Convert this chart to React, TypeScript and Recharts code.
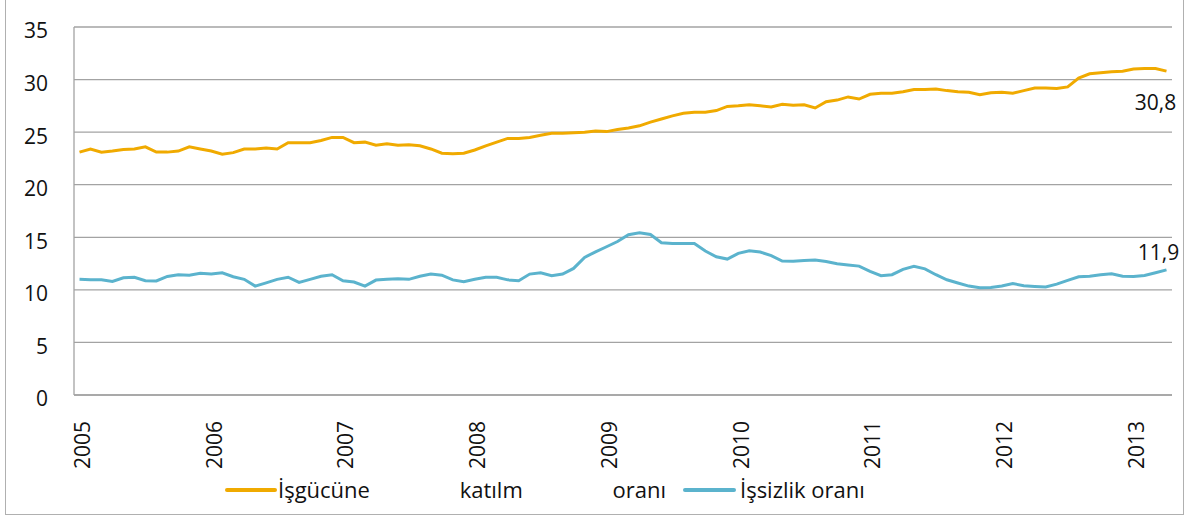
import { CartesianGrid, Legend, Line, LineChart, XAxis, YAxis } from 'recharts';

// monthly, Jan 2005 .. Apr 2013
const months: string[] = Array.from({ length: 100 }, (_, i) => {
  const y = 2005 + Math.floor(i / 12);
  const m = (i % 12) + 1;
  return `${y}-${m < 10 ? '0' + m : m}`;
});

const participation = [
  23.1, 23.4, 23.1, 23.2, 23.35, 23.4, 23.6, 23.1, 23.1, 23.2, 23.6, 23.4,
  23.2, 22.9, 23.05, 23.4, 23.4, 23.5, 23.4, 24.0, 24.0, 24.0, 24.2, 24.5,
  24.5, 24.0, 24.05, 23.75, 23.9, 23.75, 23.8, 23.7, 23.4, 23.0, 22.95, 23.0,
  23.3, 23.7, 24.05, 24.4, 24.4, 24.5, 24.7, 24.9, 24.9, 24.95, 25.0, 25.1,
  25.05, 25.25, 25.4, 25.6, 25.95, 26.25, 26.55, 26.8, 26.9, 26.9, 27.05, 27.45,
  27.5, 27.6, 27.5, 27.4, 27.65, 27.55, 27.6, 27.3, 27.9, 28.05, 28.35, 28.15,
  28.6, 28.7, 28.7, 28.85, 29.05, 29.05, 29.1, 28.95, 28.85, 28.8, 28.55, 28.75,
  28.8, 28.7, 28.95, 29.2, 29.2, 29.15, 29.3, 30.15, 30.55, 30.65, 30.75, 30.8,
  31.0, 31.05, 31.05, 30.8,
];

const unemployment = [
  11.0, 10.96, 10.96, 10.8, 11.15, 11.2, 10.87, 10.85, 11.28, 11.44, 11.4, 11.57,
  11.5, 11.63, 11.25, 11.0, 10.36, 10.67, 11.0, 11.2, 10.71, 11.0, 11.3, 11.44,
  10.87, 10.74, 10.36, 10.93, 11.0, 11.06, 11.0, 11.3, 11.5, 11.4, 10.95, 10.77,
  11.0, 11.2, 11.2, 10.95, 10.87, 11.5, 11.63, 11.34, 11.5, 12.04, 13.09, 13.62,
  14.1, 14.6, 15.24, 15.43, 15.27, 14.48, 14.42, 14.42, 14.4, 13.69, 13.15, 12.93,
  13.47, 13.72, 13.6, 13.25, 12.74, 12.72, 12.8, 12.83, 12.7, 12.48, 12.36, 12.26,
  11.75, 11.34, 11.44, 11.95, 12.23, 12.0, 11.44, 10.96, 10.65, 10.36, 10.2, 10.23,
  10.36, 10.6, 10.4, 10.33, 10.27, 10.55, 10.9, 11.25, 11.3, 11.44, 11.53, 11.3,
  11.28, 11.37, 11.63, 11.9,
];

const yTicks = [0, 5, 10, 15, 20, 25, 30, 35];

const data = months.map((month, i) => ({
  month,
  participation: participation[i],
  unemployment: unemployment[i],
}));

const FONT = '"Open Sans", Lato, sans-serif';
const FS = 21;
const ORANGE = '#F0AA00';
const BLUE = '#5BB3CD';
const GRID = '#a3a3a3';
const LAST = months.length - 1;

function YearTick({ x, y, payload }: any) {
  return (
    <text
      x={0}
      y={0}
      transform={`translate(${x + 3},${y + 18}) rotate(-90)`}
      textAnchor="end"
      dy="0.35em"
      fontSize={FS}
      fontFamily={FONT}
      fill="#111"
    >
      {String(payload.value).slice(0, 4)}
    </text>
  );
}

function endLabel(dx: number, dy: number) {
  return ({ x, y, index, value }: any) => {
    if (index !== LAST) return null;
    return (
      <text
        x={x + dx}
        y={y + dy}
        textAnchor="middle"
        dominantBaseline="central"
        fontSize={FS}
        fontFamily={FONT}
        fill="#111"
      >
        {Number(value).toFixed(1).replace('.', ',')}
      </text>
    );
  };
}

function LegendContent({ payload }: any) {
  const items = payload || [];
  const first = items.find((p: any) => p.dataKey === 'participation');
  const second = items.find((p: any) => p.dataKey === 'unemployment');
  const textStyle: React.CSSProperties = {
    position: 'absolute',
    top: 0,
    height: 30,
    lineHeight: '30px',
    fontSize: FS + 1,
    fontFamily: FONT,
    color: '#111',
    whiteSpace: 'nowrap',
  };
  const swatch = (left: number, width: number, color: string): React.CSSProperties => ({
    position: 'absolute',
    left,
    top: 14,
    width,
    height: 4,
    borderRadius: 2,
    background: color,
  });
  return (
    <div style={{ position: 'relative', width: 1189, height: 30 }}>
      {first && (
        <>
          <div style={swatch(225, 52, first.color)} />
          <div style={{ ...textStyle, left: 278, width: 388, display: 'flex', justifyContent: 'space-between' }}>
            {String(first.value).split(' ').map((w: string) => (
              <span key={w}>{w}</span>
            ))}
          </div>
        </>
      )}
      {second && (
        <>
          <div style={swatch(683, 53, second.color)} />
          <div style={{ ...textStyle, left: 740 }}>{second.value}</div>
        </>
      )}
    </div>
  );
}

export default function App() {
  return (
    <div style={{ position: 'absolute', left: 0, top: 0, width: 1189, height: 521, background: '#fff' }}>
      <div
        style={{
          position: 'absolute',
          left: 5,
          top: -3,
          width: 1177,
          height: 516,
          border: '1.5px solid #b0b0b0',
        }}
      />
      <LineChart
        width={1189}
        height={521}
        data={data}
        margin={{ top: 27, right: 17, left: 0, bottom: 17 }}
        style={{ position: 'absolute', left: 0, top: 0 }}
      >
        <CartesianGrid vertical={false} stroke={GRID} strokeWidth={1.3} />
        <XAxis
          dataKey="month"
          interval={11}
          tickLine={false}
          axisLine={{ stroke: GRID, strokeWidth: 1.3 }}
          padding={{ left: 5.5, right: 5.5 }}
          height={79}
          tick={<YearTick />}
        />
        <YAxis
          domain={[0, 35]}
          ticks={yTicks}
          width={74}
          tickSize={0}
          tickMargin={26}
          tickLine={false}
          axisLine={{ stroke: GRID, strokeWidth: 1.3 }}
          tick={{ fontSize: FS, fontFamily: FONT, fill: '#111', dy: 4 }}
        />
        <Legend verticalAlign="bottom" height={30} content={<LegendContent />} />
        <Line
          type="linear"
          dataKey="participation"
          name="İşgücüne katılm oranı"
          stroke={ORANGE}
          strokeWidth={3}
          dot={false}
          isAnimationActive={false}
          label={endLabel(-11, 31)}
        />
        <Line
          type="linear"
          dataKey="unemployment"
          name="İşsizlik oranı"
          stroke={BLUE}
          strokeWidth={3}
          dot={false}
          isAnimationActive={false}
          label={endLabel(-8, -18)}
        />
      </LineChart>
    </div>
  );
}
